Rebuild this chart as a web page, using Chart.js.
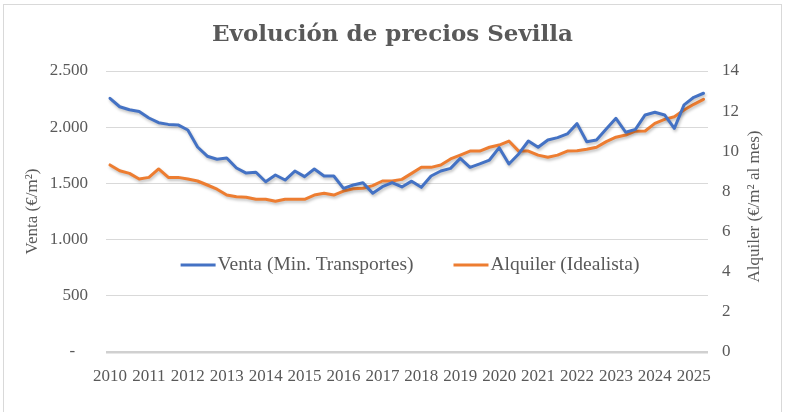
<!DOCTYPE html>
<html>
<head>
<meta charset="utf-8">
<script src="https://cdn.jsdelivr.net/npm/chart.js@4.4.1/dist/chart.umd.min.js"></script>
<style>
html,body{margin:0;padding:0;background:#fff;}
#wrap{position:relative;width:785px;height:412px;}
</style>
</head>
<body>
<div id="wrap"><canvas id="c" width="785" height="412"></canvas></div>
<script>
const chartTitle = 'Evolución de precios Sevilla';
const leftAxisTitle = 'Venta (€/m²)';
const rightAxisTitle = 'Alquiler (€/m² al mes)';
const ventaLabel = 'Venta (Min. Transportes)';
const alquilerLabel = 'Alquiler (Idealista)';

const years = ['2010','2011','2012','2013','2014','2015','2016','2017','2018','2019','2020','2021','2022','2023','2024','2025'];
const quarterNames = ['T1','T2','T3','T4'];
const quarters = years.flatMap(y => quarterNames.map(q => y + ' ' + q)).slice(0, 62);

const venta = [
  2257, 2182, 2155, 2140, 2082, 2040, 2025, 2020,
  1975, 1824, 1742, 1715, 1726, 1637, 1592, 1599,
  1515, 1575, 1530, 1610, 1560, 1628, 1566, 1566,
  1456, 1486, 1506, 1412, 1471, 1506, 1468, 1520,
  1465, 1566, 1610, 1634, 1723, 1643, 1673, 1708,
  1818, 1673, 1762, 1877, 1821, 1886, 1907, 1940,
  2032, 1871, 1886, 1984, 2079, 1955, 1981, 2109,
  2133, 2109, 1990, 2198, 2266, 2302
];
const alquiler = [
  9.32, 9.03, 8.90, 8.62, 8.70, 9.12, 8.70, 8.70,
  8.62, 8.52, 8.32, 8.11, 7.82, 7.74, 7.71, 7.61,
  7.61, 7.51, 7.61, 7.61, 7.61, 7.82, 7.91, 7.82,
  8.02, 8.13, 8.16, 8.29, 8.52, 8.52, 8.60, 8.90,
  9.20, 9.20, 9.32, 9.62, 9.81, 10.01, 10.01, 10.20,
  10.31, 10.51, 10.01, 10.01, 9.81, 9.70, 9.81, 10.01,
  10.03, 10.10, 10.20, 10.48, 10.70, 10.81, 11.00, 11.01,
  11.39, 11.59, 11.72, 12.06, 12.34, 12.59
];
const ventaTicks = [0, 500, 1000, 1500, 2000, 2500];
const alquilerTicks = [0, 2, 4, 6, 8, 10, 12, 14];

const BLUE = '#4472C4';
const ORANGE = '#ED7D31';
const TEXT = '#595959';
const GRID = '#d9d9d9';
const SERIF = '"Liberation Serif", "DejaVu Serif", serif';

function fmtVenta(v) {
  if (v === 0) return '-   ';
  return v.toString().replace(/\B(?=(\d{3})+(?!\d))/g, '.');
}

const decor = {
  id: 'decor',
  beforeDraw(chart) {
    const ctx = chart.ctx;
    ctx.save();
    ctx.fillStyle = '#fff';
    ctx.fillRect(0, 0, chart.width, chart.height);
    ctx.strokeStyle = GRID;
    ctx.lineWidth = 1;
    ctx.strokeRect(3.5, 4.5, 778, 430);
    ctx.restore();
  },
  beforeDatasetDraw(chart) {
    const ctx = chart.ctx;
    ctx.save();
    ctx.shadowColor = 'rgba(0,0,0,0.25)';
    ctx.shadowBlur = 3;
    ctx.shadowOffsetX = 1;
    ctx.shadowOffsetY = 2;
  },
  afterDatasetDraw(chart) {
    chart.ctx.restore();
  },
  afterDraw(chart) {
    const ctx = chart.ctx;
    const a = chart.chartArea;
    ctx.save();
    // Title
    ctx.fillStyle = TEXT;
    ctx.font = 'bold 23px "DejaVu Serif", serif';
    ctx.textAlign = 'center';
    ctx.textBaseline = 'alphabetic';
    ctx.fillText(chartTitle, chart.width / 2, 41);

    // Axis titles
    ctx.font = '17px ' + SERIF;
    ctx.textBaseline = 'middle';
    ctx.save();
    ctx.translate(33, (a.top + a.bottom) / 2);
    ctx.rotate(-Math.PI / 2);
    ctx.fillText(leftAxisTitle, 0, 0);
    ctx.restore();
    ctx.save();
    ctx.translate(755, (a.top + a.bottom) / 2 - 5);
    ctx.rotate(-Math.PI / 2);
    ctx.fillText(rightAxisTitle, 0, 0);
    ctx.restore();

    // Legend
    ctx.font = '19.5px ' + SERIF;
    ctx.textAlign = 'left';
    const items = [[ventaLabel, BLUE], [alquilerLabel, ORANGE]];
    const sample = 35, gapT = 2, gapI = 40;
    const widths = items.map(it => ctx.measureText(it[0]).width);
    const total = widths.reduce((s, w) => s + sample + gapT + w, 0) + gapI;
    let x = (a.left + a.right) / 2 + 3 - total / 2;
    const y = a.top + (a.bottom - a.top) * 0.69;
    items.forEach((it, k) => {
      ctx.strokeStyle = it[1];
      ctx.lineWidth = 3;
      ctx.beginPath();
      ctx.moveTo(x, y);
      ctx.lineTo(x + sample, y);
      ctx.stroke();
      x += sample + gapT;
      ctx.fillStyle = TEXT;
      ctx.fillText(it[0], x, y);
      x += widths[k] + gapI;
    });
    ctx.restore();
  }
};

new Chart(document.getElementById('c'), {
  type: 'line',
  data: {
    labels: quarters,
    datasets: [
      {
        label: ventaLabel,
        data: venta.map((v, i) => ({ x: i, y: v })),
        borderColor: BLUE,
        backgroundColor: BLUE,
        borderWidth: 3,
        pointRadius: 0,
        tension: 0,
        yAxisID: 'y',
        borderJoinStyle: 'round',
        borderCapStyle: 'round'
      },
      {
        label: alquilerLabel,
        data: alquiler.map((v, i) => ({ x: i, y: v })),
        borderColor: ORANGE,
        backgroundColor: ORANGE,
        borderWidth: 3,
        pointRadius: 0,
        tension: 0,
        yAxisID: 'y1',
        borderJoinStyle: 'round',
        borderCapStyle: 'round'
      }
    ]
  },
  options: {
    responsive: false,
    animation: false,
    layout: { padding: { top: 71, left: 0, right: 0, bottom: 0 } },
    plugins: {
      legend: { display: false },
      title: { display: false },
      tooltip: { enabled: false }
    },
    scales: {
      x: {
        type: 'linear',
        min: -0.41,
        max: 61.46,
        grid: { display: false },
        border: { display: false },
        afterFit(s) { s.height = 60; },
        afterBuildTicks(s) { s.ticks = years.map((y, k) => ({ value: k * 4 })); },
        ticks: {
          color: TEXT,
          font: { family: SERIF, size: 17 },
          padding: 6,
          maxRotation: 0,
          autoSkip: false,
          callback: (v) => years[Math.round(v / 4)]
        }
      },
      y: {
        position: 'left',
        min: 0,
        max: 2500,
        afterFit(s) { s.width = 106; },
        afterBuildTicks(s) { s.ticks = ventaTicks.map(v => ({ value: v })); },
        grid: {
          color: (c) => c.tick && c.tick.value === 0 ? '#d0d0d0' : GRID,
          lineWidth: (c) => c.tick && c.tick.value === 0 ? 2.5 : 1,
          drawTicks: false
        },
        border: { display: false },
        ticks: {
          color: TEXT,
          font: { family: SERIF, size: 17 },
          padding: 18,
          callback: (v) => fmtVenta(v)
        }
      },
      y1: {
        position: 'right',
        min: 0,
        max: 14,
        afterFit(s) { s.width = 77; },
        afterBuildTicks(s) { s.ticks = alquilerTicks.map(v => ({ value: v })); },
        grid: { display: false, drawTicks: false },
        border: { display: false },
        ticks: {
          color: TEXT,
          font: { family: SERIF, size: 17 },
          padding: 14,
          callback: (v) => String(v)
        }
      }
    }
  },
  plugins: [decor]
});
</script>
</body>
</html>
